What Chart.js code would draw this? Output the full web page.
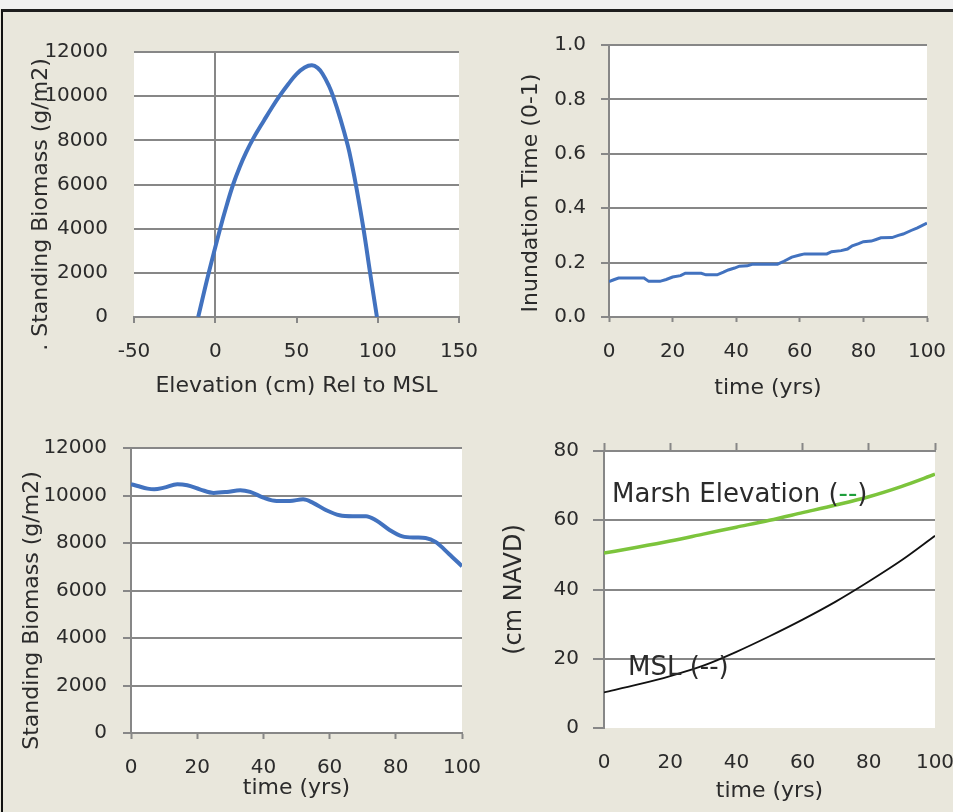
<!DOCTYPE html>
<html><head><meta charset="utf-8">
<script src="https://cdn.jsdelivr.net/npm/chart.js@4.4.1/dist/chart.umd.min.js"></script>
<style>
html,body{margin:0;padding:0;width:953px;height:812px;overflow:hidden;background:#e9e7dc;}
#topstrip{position:absolute;left:0;top:0;width:953px;height:9px;background:#f1f1f1;}
#frame{position:absolute;left:1px;top:9px;width:1000px;height:820px;border-top:3px solid #1e1e1e;border-left:2px solid #111;}
canvas{position:absolute;}
</style></head><body>
<div id="topstrip"></div><div id="frame"></div>
<canvas id="c1" width="490" height="390" style="left:8px;top:14px"></canvas>
<canvas id="c2" width="490" height="390" style="left:480px;top:14px"></canvas>
<canvas id="c3" width="495" height="400" style="left:8px;top:410px"></canvas>
<canvas id="c4" width="500" height="400" style="left:480px;top:410px"></canvas>
<script>
// ---- data ----
const elevX        = [-10.5, -4, 3, 7, 11, 15, 19, 23.5, 30, 35, 39.5, 45, 50, 55, 59.5, 63, 66, 70, 72.5, 77, 81.6, 84, 87, 91.2, 95.4, 99.5];
const biomassElev  = [0, 2000, 4000, 5050, 6000, 6780, 7450, 8100, 8900, 9500, 10000, 10550, 11000, 11300, 11400, 11280, 11016, 10460, 10000, 8970, 7750, 6950, 5800, 4000, 1950, 0];

const inundX = [0, 1.5, 3, 11, 12.5, 16, 18, 20, 22.5, 24, 29, 30.5, 34, 36, 37.5, 39.5, 41, 43.5, 45, 53, 55, 57.5, 60, 61.5, 68.5, 70, 73, 75, 76.5, 78.5, 80, 82.5, 84, 85.5, 89, 91, 92.5, 95, 97, 100];
const inundY = [0.13, 0.137, 0.143, 0.143, 0.131, 0.131, 0.138, 0.147, 0.152, 0.161, 0.161, 0.155, 0.155, 0.165, 0.173, 0.18, 0.187, 0.188, 0.194, 0.194, 0.205, 0.22, 0.228, 0.232, 0.232, 0.24, 0.244, 0.25, 0.262, 0.27, 0.277, 0.279, 0.285, 0.291, 0.292, 0.3, 0.305, 0.318, 0.328, 0.345];

const biomassT = [0, 2, 5, 7, 10, 14, 17, 21, 25, 29, 33, 36, 40, 44, 48, 52, 55, 59, 63, 67, 71, 74, 78, 82, 86, 89, 92, 96, 100];
const biomassV = [10480, 10400, 10290, 10260, 10330, 10475, 10430, 10250, 10110, 10150, 10220, 10150, 9910, 9770, 9770, 9840, 9690, 9380, 9170, 9130, 9130, 8960, 8560, 8280, 8230, 8210, 8045, 7550, 7020];

const elevT      = [0, 10, 20, 30, 40, 50, 60, 70, 80, 90, 100];
const marshElev  = [50.5, 52.2, 54, 56, 58, 60, 62.2, 64.4, 66.8, 69.8, 73.3];
const mslElev    = [10.3, 12.5, 15, 18, 22, 26.5, 31.3, 36.5, 42.3, 48.5, 55.5];

const noteMarsh = ['Marsh Elevation (', '--', ')'];
const noteMSL   = ['MSL (', '--', ')'];

// ---- styles ----
const GRID = '#878787', TXT = '#2b2b2b', BLUE = '#4272bf', GREEN = '#7cc43c', DASHGREEN = '#1f9e3c';
Chart.defaults.font.family = "'DejaVu Sans', sans-serif";
Chart.defaults.color = TXT;
Chart.defaults.animation = false;

const pts = (xs, ys) => xs.map((x, i) => ({x: x, y: ys[i]}));
function shiftTitle(s, dy) {
  if (s._sh || !dy) return;
  const orig = s.drawTitle;
  s.drawTitle = function () { this.ctx.save(); this.ctx.translate(0, dy); orig.call(this); this.ctx.restore(); };
  s._sh = true;
}
const fixW = (w, dy) => s => { s.width = w; shiftTitle(s, dy); };
const fixH = h => s => { s.height = h; };

const plotBg = {id: 'plotBg', beforeDraw(chart) {
  const {ctx, chartArea: a} = chart;
  ctx.save(); ctx.fillStyle = '#ffffff'; ctx.fillRect(a.left, a.top, a.width, a.height); ctx.restore();
}};
Chart.register(plotBg);

const basePlugins = {legend: {display: false}, tooltip: {enabled: false}};
const num = v => String(v);

// ---- panel 1 ----
new Chart(document.getElementById('c1'), {
  type: 'scatter',
  data: {datasets: [{data: pts(elevX, biomassElev), showLine: true, borderColor: BLUE, borderWidth: 4, pointRadius: 0, tension: 0.4}]},
  options: {
    responsive: false, layout: {padding: {left: 0, top: 36, right: 39, bottom: 3}}, plugins: basePlugins,
    scales: {
      x: {type: 'linear', min: -50, max: 150,
          ticks: {stepSize: 50, padding: 17, font: {size: 20}, callback: num},
          grid: {color: c => (c.tick && c.tick.value === 0) ? GRID : 'rgba(0,0,0,0)', lineWidth: 2, tickColor: GRID, tickLength: 6, tickWidth: 2},
          border: {display: true, color: GRID, width: 2},
          title: {display: true, text: 'Elevation (cm) Rel to MSL', font: {size: 22}, padding: {top: 0, bottom: 2}},
          afterFit: fixH(84)},
      y: {min: 0, max: 12000,
          ticks: {stepSize: 2000, padding: 26, font: {size: 20}, callback: num},
          grid: {color: GRID, lineWidth: 2, drawTicks: false},
          border: {display: false},
          title: {display: true, text: '. Standing Biomass (g/m2)', font: {size: 22}, padding: {top: 20, bottom: 0}},
          afterFit: fixW(126, 20)}
    }
  }
});

// ---- panel 2 ----
new Chart(document.getElementById('c2'), {
  type: 'scatter',
  data: {datasets: [{data: pts(inundX, inundY), showLine: true, borderColor: BLUE, borderWidth: 3, pointRadius: 0, tension: 0}]},
  options: {
    responsive: false, layout: {padding: {left: 0, top: 31, right: 43, bottom: 3}}, plugins: basePlugins,
    scales: {
      x: {type: 'linear', min: 0, max: 100,
          ticks: {stepSize: 20, padding: 18, font: {size: 20}, callback: num},
          grid: {display: true, drawOnChartArea: false, tickColor: GRID, tickLength: 5, tickWidth: 2},
          border: {display: true, color: GRID, width: 2},
          title: {display: true, text: 'time (yrs)', font: {size: 22}, padding: {top: 0, bottom: 0}},
          afterFit: fixH(84)},
      y: {min: 0, max: 1,
          ticks: {stepSize: 0.2, padding: 15, font: {size: 20}, callback: v => v.toFixed(1)},
          grid: {color: GRID, lineWidth: 2, tickColor: GRID, tickLength: 8, tickWidth: 2},
          border: {display: true, color: GRID, width: 2},
          title: {display: true, text: 'Inundation Time (0-1)', font: {size: 22}, padding: {top: 38, bottom: 0}},
          afterFit: fixW(129, 12)}
    }
  }
});

// ---- panel 3 ----
new Chart(document.getElementById('c3'), {
  type: 'scatter',
  data: {datasets: [{data: pts(biomassT, biomassV), showLine: true, borderColor: BLUE, borderWidth: 4, pointRadius: 0, cubicInterpolationMode: 'monotone'}]},
  options: {
    responsive: false, layout: {padding: {left: 0, top: 38, right: 41, bottom: 7}}, plugins: basePlugins,
    scales: {
      x: {type: 'linear', min: 0, max: 100,
          ticks: {stepSize: 20, padding: 17, font: {size: 20}, callback: num},
          grid: {display: true, drawOnChartArea: false, tickColor: GRID, tickLength: 6, tickWidth: 2},
          border: {display: true, color: GRID, width: 2},
          title: {display: true, text: 'time (yrs)', font: {size: 22}, padding: {top: 0, bottom: 2}},
          afterFit: fixH(70)},
      y: {min: 0, max: 12000,
          ticks: {stepSize: 2000, padding: 16, font: {size: 20}, callback: num},
          grid: {color: GRID, lineWidth: 2, tickColor: GRID, tickLength: 8, tickWidth: 2},
          border: {display: true, color: GRID, width: 2},
          title: {display: true, text: 'Standing Biomass (g/m2)', font: {size: 22}, padding: {top: 11, bottom: 0}},
          afterFit: fixW(123, 20)}
    }
  }
});

// ---- panel 4 ----
const notes = {id: 'notes', afterDatasetsDraw(chart) {
  const {ctx, chartArea: a} = chart;
  const draw = (parts, x, y, dashColor) => {
    ctx.save();
    ctx.font = "26px 'DejaVu Sans', sans-serif";
    ctx.textBaseline = 'alphabetic'; ctx.textAlign = 'left';
    parts.forEach((t, i) => {
      ctx.fillStyle = i === 1 ? dashColor : TXT;
      ctx.fillText(t, x, y);
      x += ctx.measureText(t).width;
    });
    ctx.restore();
  };
  draw(noteMarsh, a.left + 8, a.top + 50.7, DASHGREEN);
  draw(noteMSL, a.left + 24, a.top + 224, TXT);
}};

new Chart(document.getElementById('c4'), {
  type: 'scatter',
  data: {datasets: [
    {data: pts(elevT, marshElev), showLine: true, borderColor: GREEN, borderWidth: 3.5, pointRadius: 0, cubicInterpolationMode: 'monotone'},
    {data: pts(elevT, mslElev), showLine: true, borderColor: '#111111', borderWidth: 1.8, pointRadius: 0, cubicInterpolationMode: 'monotone'}
  ]},
  plugins: [notes],
  options: {
    responsive: false, layout: {padding: {left: 0, top: 33, right: 45, bottom: 2}}, plugins: basePlugins,
    scales: {
      x: {type: 'linear', min: 0, max: 100,
          ticks: {stepSize: 20, padding: 22.5, font: {size: 20}, callback: num},
          grid: {display: false, drawTicks: false},
          border: {display: false},
          title: {display: true, text: 'time (yrs)', font: {size: 22}, padding: {top: 0, bottom: 4}},
          afterFit: fixH(80)},
      x2: {type: 'linear', axis: 'x', position: 'top', min: 0, max: 100,
          ticks: {display: false, stepSize: 20},
          grid: {display: true, drawOnChartArea: false, tickColor: GRID, tickLength: 8, tickWidth: 2},
          border: {display: true, color: GRID, width: 2},
          afterFit: fixH(8)},
      y: {min: 0, max: 80,
          ticks: {stepSize: 20, padding: 14, font: {size: 20}, callback: num},
          grid: {color: c => (c.tick && c.tick.value === 0) ? 'rgba(0,0,0,0)' : GRID, lineWidth: 2, tickColor: GRID, tickLength: 11, tickWidth: 2},
          border: {display: true, color: GRID, width: 2},
          title: {display: true, text: '(cm NAVD)', font: {size: 24}, padding: {top: 20.6, bottom: 0}},
          afterFit: fixW(124, 0)}
    }
  }
});
</script>
</body></html>
